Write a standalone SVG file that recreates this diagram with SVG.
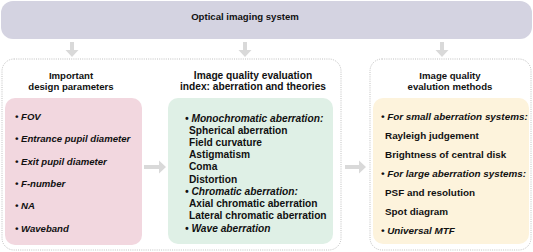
<svg xmlns="http://www.w3.org/2000/svg" width="533" height="252" viewBox="0 0 533 252">
<style>
text{font-family:"Liberation Sans",Arial,sans-serif;font-size:9.6px;font-weight:bold;fill:#111}
.t{text-anchor:middle}
.i{font-style:italic}
.g{font-size:10.2px}
.y{font-size:9.9px}
.outer{fill:#fff;stroke:#b0b0b0;stroke-width:0.8;stroke-dasharray:1 1.2}
.arr{fill:#d9d9d9}
</style>
<rect width="533" height="252" fill="#fff"/>
<g id="top">
<rect x="1" y="1" width="531" height="38" rx="12" fill="#d4d3e1"/>
<text class="t" x="245" y="19.5">Optical imaging system</text>
</g>
<g id="outer-left"><rect class="outer" x="2" y="59" width="339" height="191" rx="12"/></g>
<g id="outer-right"><rect class="outer" x="370" y="59" width="161" height="191" rx="12"/></g>
<g id="connectors">
<path class="arr" d="M70 42h4v8h4.5l-6.5 7l-6.5-7h4.5z"/>
<path class="arr" d="M243 42h4v8h4.5l-6.5 7l-6.5-7h4.5z"/>
<path class="arr" d="M440 42h4v8h4.5l-6.5 7l-6.5-7h4.5z"/>
<path class="arr" d="M144 165h15v-4.5l7 6.5l-7 6.5v-4.5h-15z"/>
<path class="arr" d="M345 165h14v-4.5l7 6.5l-7 6.5v-4.5h-14z"/>
</g>
<g id="design-parameters">
<text class="t" x="71" y="79">Important</text>
<text class="t" x="71" y="90">design parameters</text>
<rect x="5" y="98" width="137" height="147" rx="10" fill="#f2d7df"/>
<text class="i" x="15" y="120">• FOV</text>
<text class="i" x="15" y="142">• Entrance pupil diameter</text>
<text class="i" x="15" y="164.5">• Exit pupil diameter</text>
<text class="i" x="15" y="187">• F-number</text>
<text class="i" x="15" y="209">• NA</text>
<text class="i" x="15" y="231.5">• Waveband</text>
</g>
<g id="quality-index">
<text class="t g" x="253" y="79">Image quality evaluation</text>
<text class="t g" x="253" y="90">index: aberration and theories</text>
<rect x="168" y="98" width="165" height="146" rx="10" fill="#dff0e6"/>
<text class="i g" x="185" y="121.5">• Monochromatic aberration:</text>
<text class="g" x="189" y="133.7">Spherical aberration</text>
<text class="g" x="189" y="146">Field curvature</text>
<text class="g" x="189" y="158.2">Astigmatism</text>
<text class="g" x="189" y="170.4">Coma</text>
<text class="g" x="189" y="182.6">Distortion</text>
<text class="i g" x="185" y="194.8">• Chromatic aberration:</text>
<text class="g" x="189" y="207.1">Axial chromatic aberration</text>
<text class="g" x="189" y="219.3">Lateral chromatic aberration</text>
<text class="i g" x="185" y="231.5">• Wave aberration</text>
</g>
<g id="evaluation-methods">
<text class="t" x="450" y="79">Image quality</text>
<text class="t" x="450" y="90">evalution methods</text>
<rect x="373" y="98" width="156" height="146" rx="10" fill="#fdf3dc"/>
<text class="i y" x="381" y="119.5">• For small aberration systems:</text>
<text class="y" x="385" y="138.5">Rayleigh judgement</text>
<text class="y" x="385" y="157.5">Brightness of central disk</text>
<text class="i y" x="381" y="176.5">• For large aberration systems:</text>
<text class="y" x="385" y="195.5">PSF and resolution</text>
<text class="y" x="385" y="214.5">Spot diagram</text>
<text class="i y" x="381" y="233.5">• Universal MTF</text>
</g>
</svg>
